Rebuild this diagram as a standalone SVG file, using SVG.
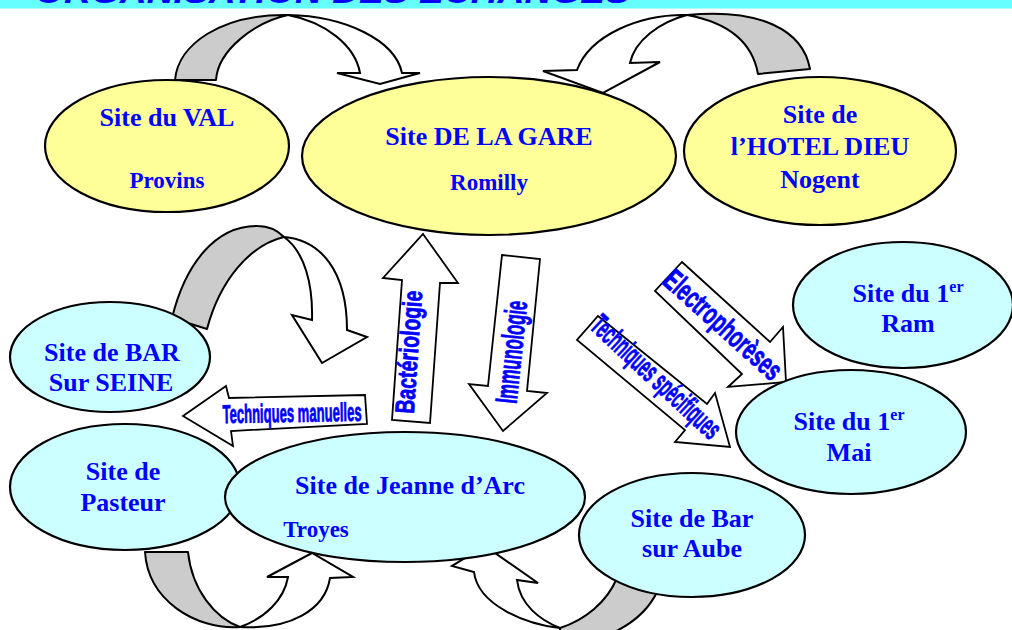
<svg xmlns="http://www.w3.org/2000/svg" width="1012" height="630" viewBox="0 0 1012 630">
  <defs>
    <style>
      .yel { fill: #FFFF99; stroke: #000; stroke-width: 2.2; }
      .cya { fill: #CCFFFF; stroke: #000; stroke-width: 2.2; }
      .back { fill: #CCCCCC; stroke: #000; stroke-width: 2; stroke-linejoin: round; }
      .front { fill: #FFFFFF; stroke: #000; stroke-width: 2; stroke-linejoin: miter; }
      .block { fill: #FFFFFF; stroke: #000; stroke-width: 1.8; stroke-linejoin: miter; }
      .site { font-family: "Liberation Serif", "Times New Roman", serif; font-weight: bold; fill: #0000FF; text-anchor: middle; font-size: 26px; }
      .city { font-size: 23px; }
      .sup { font-size: 16px; }
      .lbl { font-family: "Liberation Sans", Arial, sans-serif; font-weight: bold; fill: #0000FF; stroke: #0000FF; stroke-width: 0.8; text-anchor: middle; }
      .title { font-family: "Liberation Sans", Arial, sans-serif; font-weight: bold; font-style: italic; fill: #0000FF; font-size: 34px; }
    </style>
  </defs>

  <rect x="0" y="0" width="1012" height="630" fill="#FFFFFF"/>

  <!-- header band -->
  <g id="header">
    <rect x="0" y="0" width="1012" height="8.5" fill="#66FFFF"/>
    <text class="title" x="35" y="3" textLength="595" lengthAdjust="spacingAndGlyphs">ORGANISATION DES ECHANGES</text>
  </g>

  <!-- exchange arrows -->
  <g id="connectors">
    <!-- VAL -> GARE -->
    <path class="back" d="M175,80 C178,45 220,14 288,15 C255,22 218,50 216,80 Z"/>
    <path class="front" d="M288,15 C345,16 395,40 402,73 L420,73 L380,84 L337,73 L360,73 C355,45 325,22 288,15 Z"/>

    <!-- HOTEL DIEU -> GARE -->
    <path class="back" d="M810,69 C803,30 760,8 687,15 C725,22 752,40 758,74 Z"/>
    <path class="front" d="M687,15 C640,14 590,35 577,70 L543,71 L603,93 L660,62 L630,63 C635,40 660,22 687,15 Z"/>

    <!-- BAR sur SEINE -> Jeanne d'Arc -->
    <path class="back" d="M172,318 C185,265 215,225 258,226 C270,226 278,231 284,237 C250,245 220,280 207,329 Z"/>
    <path class="front" d="M284,237 C320,240 347,270 347,330 L367,337 L322,363 L292,315 L312,320 C313,285 305,252 284,237 Z"/>

    <!-- Pasteur -> Jeanne d'Arc -->
    <path class="back" d="M145,552 L188,552 C192,590 215,618 240,627 C195,630 148,600 145,552 Z"/>
    <path class="front" d="M240,627 C290,630 325,610 330,578 L353,577 L312,553 L267,577 L288,577 C284,600 265,618 240,627 Z"/>

    <!-- Bar sur Aube -> Jeanne d'Arc -->
    <path class="back" d="M560,628 C585,620 607,602 617,578 L658,590 C648,612 628,628 600,638 L560,638 Z"/>
    <path class="front" d="M560,628 C525,624 478,605 474,572 L452,566 L485,546 L538,583 L517,580 C520,605 540,620 560,628 Z"/>

    <!-- Bactériologie -->
    <polygon class="block" points="423,234 458,283 440,283 430,423 392,420 402,280 383,278"/>
    <text class="lbl" transform="translate(409,352) rotate(-86)" x="0" y="9" font-size="27" textLength="123" lengthAdjust="spacingAndGlyphs">Bactériologie</text>

    <!-- Immunologie -->
    <polygon class="block" points="502,255 540,259 527,391 547,393 503,431 469,384 488,386"/>
    <text class="lbl" transform="translate(512,352) rotate(-84)" x="0" y="10" font-size="31" textLength="103" lengthAdjust="spacingAndGlyphs">Immunologie</text>

    <!-- Techniques manuelles -->
    <polygon class="block" points="183,416 226,386 229,398 365,395 367,424 231,431 233,446"/>
    <text class="lbl" transform="translate(292,413) rotate(-1)" x="0" y="9" font-size="26" textLength="139" lengthAdjust="spacingAndGlyphs">Techniques manuelles</text>

    <!-- Electrophorèses -->
    <polygon class="block" points="682,262 770,342 783,327 786,382 728,387 742,374 655,291"/>
    <text class="lbl" transform="translate(723,325) rotate(42)" x="0" y="10" font-size="30" textLength="148" lengthAdjust="spacingAndGlyphs">Electrophorèses</text>

    <!-- Techniques spécifiques -->
    <polygon class="block" points="598,316 707,404 715,393 730,447 675,442 685,430 577,340"/>
    <text class="lbl" transform="translate(656,377) rotate(43)" x="0" y="10" font-size="30" textLength="166" lengthAdjust="spacingAndGlyphs">Techniques spécifiques</text>
  </g>

  <!-- sites -->
  <g id="site-val">
    <ellipse class="yel" cx="167" cy="146" rx="122" ry="66"/>
    <text class="site" x="167" y="126">Site du VAL</text>
    <text class="site city" x="167" y="188">Provins</text>
  </g>

  <g id="site-gare">
    <ellipse class="yel" cx="489" cy="156" rx="187" ry="79"/>
    <text class="site" x="489" y="145">Site DE LA GARE</text>
    <text class="site city" x="489" y="190">Romilly</text>
  </g>

  <g id="site-hotel-dieu">
    <ellipse class="yel" cx="820" cy="151" rx="136" ry="74"/>
    <text class="site" x="820" y="123">Site de</text>
    <text class="site" x="820" y="155">l’HOTEL DIEU</text>
    <text class="site" x="820" y="188" font-size="29">Nogent</text>
  </g>

  <g id="site-ram">
    <ellipse class="cya" cx="903" cy="305" rx="110" ry="63"/>
    <text class="site" x="908" y="302">Site du 1<tspan class="sup" dy="-10">er</tspan></text>
    <text class="site" x="908" y="332">Ram</text>
  </g>

  <g id="site-mai">
    <ellipse class="cya" cx="851" cy="432" rx="115" ry="62"/>
    <text class="site" x="849" y="430">Site du 1<tspan class="sup" dy="-10">er</tspan></text>
    <text class="site" x="849" y="461">Mai</text>
  </g>

  <g id="site-bar-seine">
    <ellipse class="cya" cx="110" cy="357" rx="100" ry="55"/>
    <text class="site" x="112" y="361">Site de BAR</text>
    <text class="site" x="111" y="391">Sur SEINE</text>
  </g>

  <g id="site-pasteur">
    <ellipse class="cya" cx="125" cy="487" rx="115" ry="63"/>
    <text class="site" x="123" y="480">Site de</text>
    <text class="site" x="123" y="511">Pasteur</text>
  </g>

  <g id="site-jeanne-arc">
    <ellipse class="cya" cx="405" cy="497" rx="180" ry="65"/>
    <text class="site" x="410" y="494">Site de Jeanne d’Arc</text>
    <text class="site city" x="316" y="537">Troyes</text>
  </g>

  <g id="site-bar-aube">
    <ellipse class="cya" cx="692" cy="535" rx="113" ry="62"/>
    <text class="site" x="692" y="527">Site de Bar</text>
    <text class="site" x="692" y="557">sur Aube</text>
  </g>
</svg>
